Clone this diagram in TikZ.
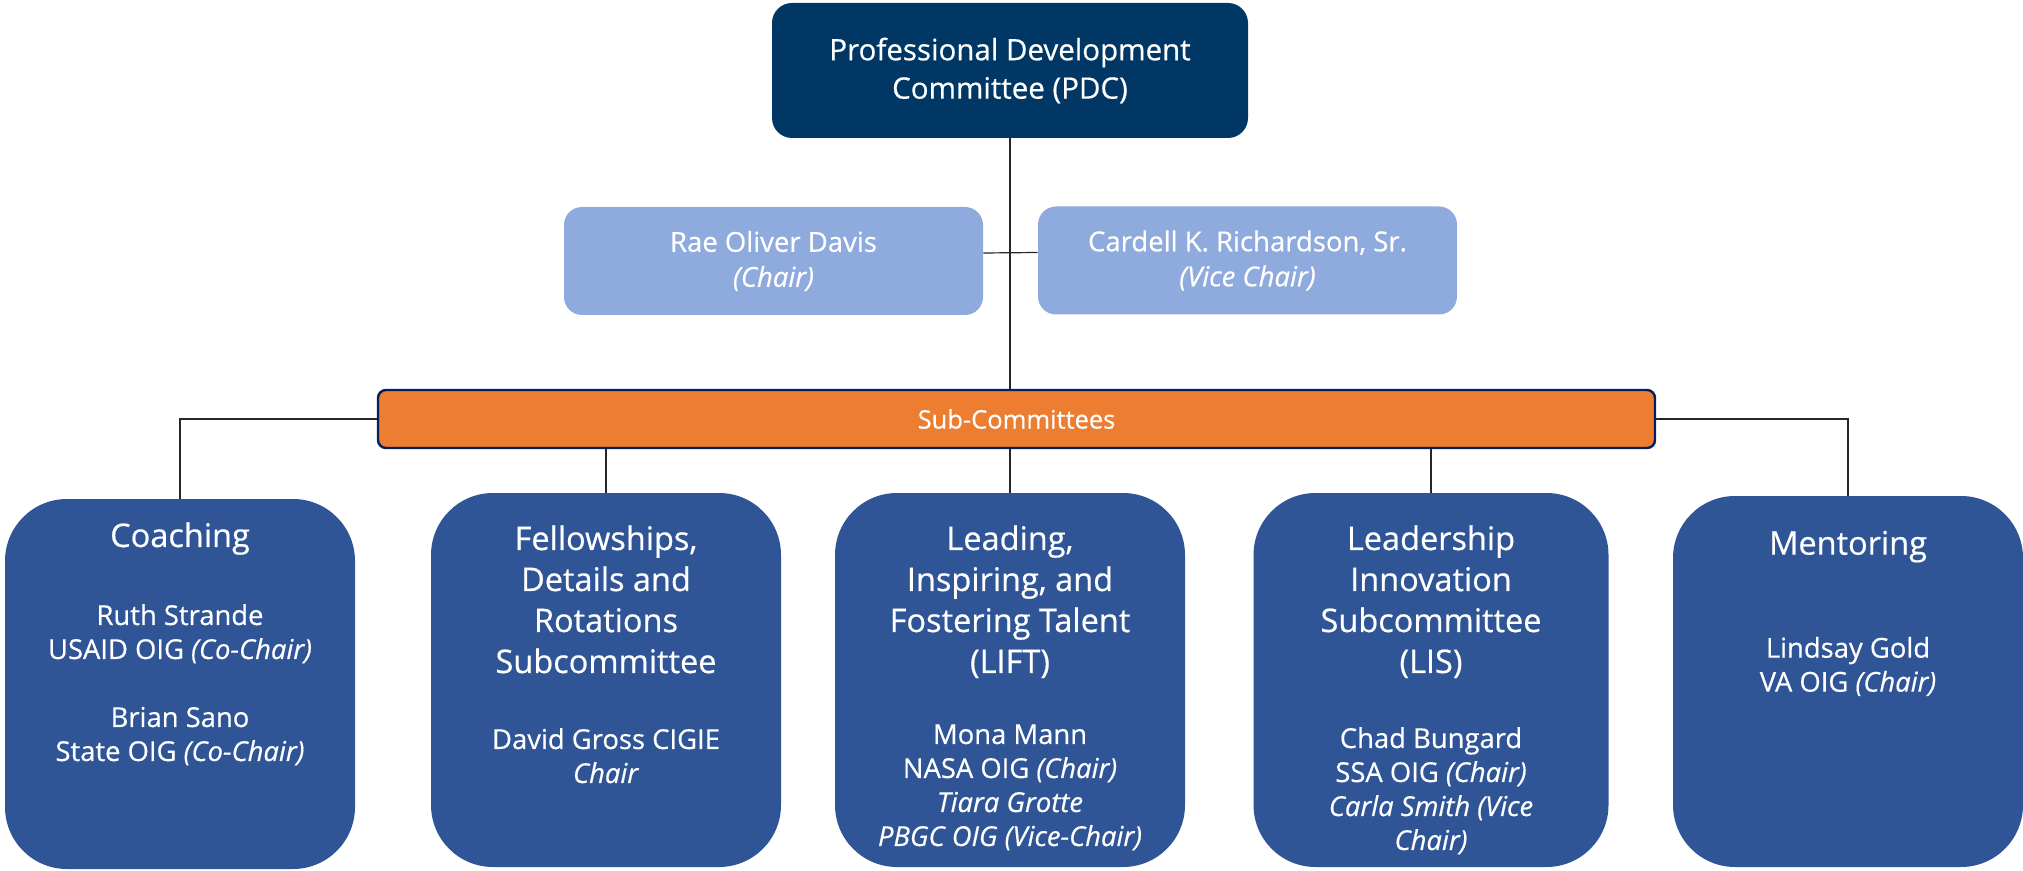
\documentclass[tikz,border=0pt]{standalone}
\usepackage{fontspec}
\setmainfont{Open Sans}[UprightFeatures={FakeBold=0.5},ItalicFeatures={FakeBold=0.5}]
\usepackage{xcolor}
\usepackage{tikz}
\usetikzlibrary{positioning}

\definecolor{pdcblue}{HTML}{003764}
\definecolor{chairblue}{HTML}{8FAADC}
\definecolor{subblue}{HTML}{2F5597}
\definecolor{barorange}{HTML}{ED7D31}
\definecolor{barline}{HTML}{002060}

\newcommand{\boxtext}[5]{\parbox[c][#1][t]{172pt}{\centering\lineskiplimit=-100pt\lineskip=0pt
\vspace*{#2}\fontsize{16.25}{20.5}\selectfont #3\par
\vspace{#4}\fontsize{13.7}{17}\selectfont #5\par}}

\tikzset{
	conn/.style={draw=black!85,line width=0.6pt},
	topbox/.style={fill=pdcblue,rounded corners=10pt,text=white,align=center,
		minimum width=238pt,minimum height=67.5pt,inner sep=0pt,font=\fontsize{14.75}{19.2}\selectfont},
	chairbox/.style={fill=chairblue,rounded corners=9pt,text=white,align=center,
		minimum width=209.5pt,minimum height=54pt,inner sep=0pt,font=\fontsize{13.75}{17.5}\selectfont},
	barbox/.style={fill=barorange,draw=barline,line width=1.2pt,rounded corners=4pt,text=white,
		minimum width=638.5pt,minimum height=29pt,inner sep=0pt,font=\fontsize{12.75}{15}\selectfont},
	subbox/.style={fill=subblue,rounded corners=31pt,text=white,inner sep=0pt,minimum width=175pt}
}

\begin{document}
\begin{tikzpicture}[x=0.5pt,y=-0.5pt]
	\useasboundingbox (0,0) rectangle (2023,871);
	\node[topbox] (pdc) at (1010,70.5) {Professional Development\\Committee (PDC)};
	\node[chairbox] (rae) at (773.5,261) {Rae Oliver Davis\\\textit{(Chair)}};
	\node[chairbox] (card) at (1247.5,260.5) {Cardell K. Richardson, Sr.\\\textit{(Vice Chair)}};
	\node[barbox] (bar) at (1016.5,419) {Sub-Committees};
	\node[subbox] (coach) at (180,684) {\boxtext{185pt}{11.65pt}{Coaching}{22pt}{Ruth Strande\\USAID OIG \textit{(Co-Chair)}\par\vspace{17pt}Brian Sano\\State OIG \textit{(Co-Chair)}}};
	\node[subbox] (fell) at (606,680) {\boxtext{187pt}{16.15pt}{Fellowships,\\Details and\\Rotations\\Subcommittee}{21pt}{David Gross CIGIE\\\textit{Chair}}};
	\node[subbox] (lift) at (1010,680) {\boxtext{187pt}{16.15pt}{Leading,\\Inspiring, and\\Fostering Talent\\(LIFT)}{18.5pt}{Mona Mann\\NASA OIG \textit{(Chair)}\\\textit{Tiara Grotte}\\\textit{PBGC OIG (Vice-Chair)}}};
	\node[subbox,minimum width=177.5pt] (lis) at (1431,680) {\boxtext{187pt}{16.15pt}{Leadership\\Innovation\\Subcommittee\\(LIS)}{20.5pt}{Chad Bungard\\SSA OIG \textit{(Chair)}\\\textit{Carla Smith (Vice}\\\textit{Chair)}}};
	\node[subbox] (ment) at (1848,681.5) {\boxtext{185.5pt}{17.4pt}{Mentoring}{34.5pt}{Lindsay Gold\\VA OIG \textit{(Chair)}}};
	\draw[conn] (pdc.south) -- (pdc.south |- bar.north);
	\draw[conn] ([yshift=4pt]rae.east) -- ([yshift=4pt]card.west);
	\draw[conn] (bar.west) -| (coach.north);
	\draw[conn] (bar.east) -| (ment.north);
	\foreach \b in {fell,lift,lis}
		\draw[conn] (\b.north) -- (\b.north |- bar.south);
\end{tikzpicture}
\end{document}
